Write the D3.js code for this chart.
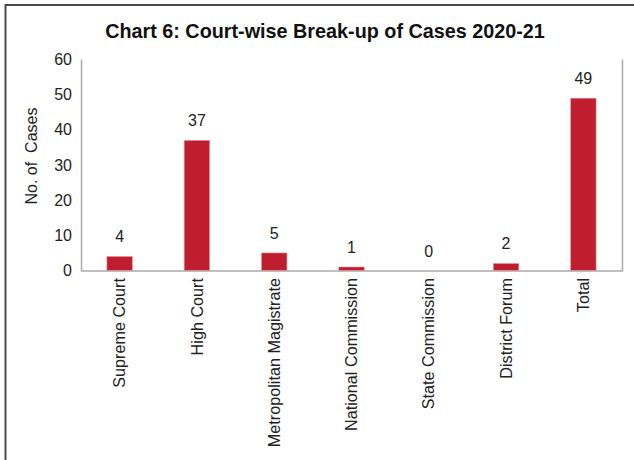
<!DOCTYPE html>
<html>
<head>
<meta charset="utf-8">
<script src="https://cdn.jsdelivr.net/npm/d3@7"></script>
<style>
  html, body { margin: 0; padding: 0; background: #fff; }
  svg { display: block; font-family: "Liberation Sans", Arial, sans-serif; }
</style>
</head>
<body>
<svg id="chart" width="634" height="460"></svg>
<script>
const categories = ["Supreme Court", "High Court", "Metropolitan Magistrate", "National Commission", "State Commission", "District Forum", "Total"];
const cases = [4, 37, 5, 1, 0, 2, 49];
const yTicks = [0, 10, 20, 30, 40, 50, 60];

const FONT = "'Liberation Sans', Arial, sans-serif";
const svg = d3.select("#chart");
const plot = { left: 81, right: 622, top: 59.5, bottom: 270.5 };

// outer frame: top and left edges
svg.append("path")
  .attr("d", "M5.5,460 L5.5,5 L634,5")
  .attr("fill", "none").attr("stroke", "#4a4a4a").attr("stroke-width", 2);

svg.append("text")
  .attr("x", 325).attr("y", 38)
  .attr("text-anchor", "middle")
  .attr("font-family", FONT)
  .attr("font-size", 19.8).attr("font-weight", "bold").attr("fill", "#111")
  .text("Chart 6: Court-wise Break-up of Cases 2020-21");

const x = d3.scaleBand().domain(categories).range([plot.left, plot.right]).paddingInner(0.67).paddingOuter(0.335);
const y = d3.scaleLinear().domain([0, 60]).range([plot.bottom, plot.top]);

// axis lines
svg.append("path")
  .attr("d", `M${plot.left + 0.5},${plot.top} V${plot.bottom + 0.5} H${plot.right + 0.5} V${plot.top}`)
  .attr("fill", "none").attr("stroke", "#aaaaaa").attr("stroke-width", 1.5);

const yAxis = d3.axisLeft(y).tickValues(yTicks).tickSize(0).tickPadding(9);
const gy = svg.append("g").attr("transform", `translate(${plot.left},0)`).call(yAxis);
gy.select(".domain").remove();
gy.selectAll("text").attr("font-size", 16).attr("fill", "#222").attr("font-family", FONT);

svg.append("text")
  .attr("transform", `translate(37,156) rotate(-90)`)
  .attr("text-anchor", "middle")
  .attr("font-family", FONT)
  .attr("font-size", 16).attr("fill", "#222")
  .attr("xml:space", "preserve")
  .text("No. of  Cases");

// bars
svg.selectAll("rect.bar").data(cases).enter().append("rect")
  .attr("class", "bar")
  .attr("x", (d, i) => x(categories[i]))
  .attr("width", x.bandwidth())
  .attr("y", d => y(d))
  .attr("height", d => y(0) - y(d))
  .attr("fill", "#be1e2d")
  .attr("stroke", "#e8a0a6").attr("stroke-width", 0.6);

// value labels
svg.selectAll("text.val").data(cases).enter().append("text")
  .attr("class", "val")
  .attr("x", (d, i) => x(categories[i]) + x.bandwidth() / 2)
  .attr("y", d => y(d) - 14)
  .attr("text-anchor", "middle")
  .attr("font-family", FONT)
  .attr("font-size", 16).attr("fill", "#222")
  .text(d => d);

// category labels
const xAxis = d3.axisBottom(x).tickSize(0).tickPadding(0);
const gx = svg.append("g").attr("transform", `translate(0,${plot.bottom})`).call(xAxis);
gx.select(".domain").remove();
gx.selectAll("text")
  .attr("font-size", 16.2).attr("fill", "#222").attr("font-family", FONT)
  .attr("transform", "rotate(-90)")
  .attr("text-anchor", "end")
  .attr("x", -7.5).attr("y", 0).attr("dy", "0.35em");
</script>
</body>
</html>
